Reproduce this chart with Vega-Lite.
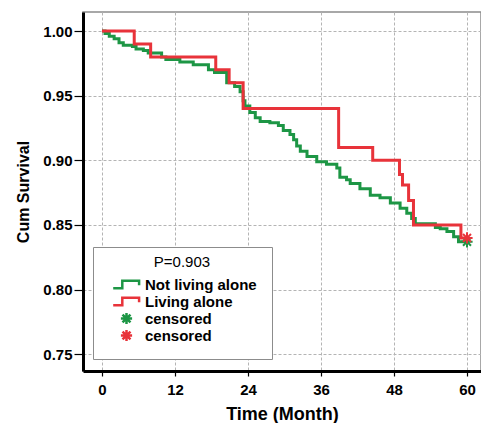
{
  "$schema": "https://vega.github.io/schema/vega-lite/v6.json",
  "width": 398,
  "height": 359,
  "autosize": {"type": "none"},
  "padding": {"left": 83, "top": 12, "right": 0, "bottom": 52},
  "background": "white",
  "config": {
    "font": "Liberation Sans",
    "view": {"stroke": "#8c8c8c", "strokeWidth": 1.5},
    "axis": {
      "gridColor": "#b4b4b4",
      "gridDash": [3, 2],
      "gridWidth": 1,
      "domainColor": "black",
      "domainWidth": 3,
      "tickColor": "black",
      "tickWidth": 1.2,
      "labelColor": "black",
      "titleColor": "black",
      "labelFont": "Liberation Sans",
      "titleFont": "Liberation Sans",
      "labelFontWeight": "bold",
      "titleFontWeight": "bold"
    }
  },
  "datasets": {
    "km": [
      {"group": "Not living alone", "time": 0, "surv": 1.0},
      {"group": "Not living alone", "time": 0.5, "surv": 0.998},
      {"group": "Not living alone", "time": 1.2, "surv": 0.996},
      {"group": "Not living alone", "time": 2.0, "surv": 0.994},
      {"group": "Not living alone", "time": 2.8, "surv": 0.991},
      {"group": "Not living alone", "time": 3.5, "surv": 0.989},
      {"group": "Not living alone", "time": 5.0, "surv": 0.988},
      {"group": "Not living alone", "time": 5.6, "surv": 0.986},
      {"group": "Not living alone", "time": 6.8, "surv": 0.985},
      {"group": "Not living alone", "time": 7.6, "surv": 0.983},
      {"group": "Not living alone", "time": 9.8, "surv": 0.98},
      {"group": "Not living alone", "time": 10.5, "surv": 0.978},
      {"group": "Not living alone", "time": 12.8, "surv": 0.976},
      {"group": "Not living alone", "time": 15.0, "surv": 0.974},
      {"group": "Not living alone", "time": 17.5, "surv": 0.97},
      {"group": "Not living alone", "time": 18.5, "surv": 0.968},
      {"group": "Not living alone", "time": 20.5, "surv": 0.96},
      {"group": "Not living alone", "time": 21.8, "surv": 0.957},
      {"group": "Not living alone", "time": 22.7, "surv": 0.953},
      {"group": "Not living alone", "time": 23.2, "surv": 0.946},
      {"group": "Not living alone", "time": 23.5, "surv": 0.942},
      {"group": "Not living alone", "time": 24.3, "surv": 0.937},
      {"group": "Not living alone", "time": 25.2, "surv": 0.933},
      {"group": "Not living alone", "time": 26.0, "surv": 0.93},
      {"group": "Not living alone", "time": 27.6, "surv": 0.929},
      {"group": "Not living alone", "time": 29.0, "surv": 0.927},
      {"group": "Not living alone", "time": 29.8, "surv": 0.923},
      {"group": "Not living alone", "time": 30.9, "surv": 0.92},
      {"group": "Not living alone", "time": 31.5, "surv": 0.916},
      {"group": "Not living alone", "time": 32.0, "surv": 0.911},
      {"group": "Not living alone", "time": 32.6, "surv": 0.907},
      {"group": "Not living alone", "time": 33.7, "surv": 0.903},
      {"group": "Not living alone", "time": 35.3, "surv": 0.899},
      {"group": "Not living alone", "time": 36.9, "surv": 0.897},
      {"group": "Not living alone", "time": 38.6, "surv": 0.894},
      {"group": "Not living alone", "time": 39.1, "surv": 0.887},
      {"group": "Not living alone", "time": 40.2, "surv": 0.885},
      {"group": "Not living alone", "time": 40.8, "surv": 0.882},
      {"group": "Not living alone", "time": 42.4, "surv": 0.878},
      {"group": "Not living alone", "time": 44.1, "surv": 0.873},
      {"group": "Not living alone", "time": 45.7, "surv": 0.871},
      {"group": "Not living alone", "time": 47.4, "surv": 0.867},
      {"group": "Not living alone", "time": 49.0, "surv": 0.863},
      {"group": "Not living alone", "time": 50.1, "surv": 0.859},
      {"group": "Not living alone", "time": 50.9, "surv": 0.855},
      {"group": "Not living alone", "time": 51.5, "surv": 0.851},
      {"group": "Not living alone", "time": 54.8, "surv": 0.848},
      {"group": "Not living alone", "time": 55.6, "surv": 0.847},
      {"group": "Not living alone", "time": 56.7, "surv": 0.845},
      {"group": "Not living alone", "time": 57.8, "surv": 0.841},
      {"group": "Not living alone", "time": 58.6, "surv": 0.837},
      {"group": "Not living alone", "time": 60.0, "surv": 0.837},
      {"group": "Living alone", "time": 0, "surv": 1.0},
      {"group": "Living alone", "time": 5.3, "surv": 0.99},
      {"group": "Living alone", "time": 8.0, "surv": 0.98},
      {"group": "Living alone", "time": 18.7, "surv": 0.97},
      {"group": "Living alone", "time": 20.9, "surv": 0.96},
      {"group": "Living alone", "time": 23.2, "surv": 0.94},
      {"group": "Living alone", "time": 38.9, "surv": 0.91},
      {"group": "Living alone", "time": 44.5, "surv": 0.9},
      {"group": "Living alone", "time": 48.9, "surv": 0.889},
      {"group": "Living alone", "time": 49.4, "surv": 0.881},
      {"group": "Living alone", "time": 50.4, "surv": 0.869},
      {"group": "Living alone", "time": 51.2, "surv": 0.85},
      {"group": "Living alone", "time": 59.0, "surv": 0.84},
      {"group": "Living alone", "time": 60.0, "surv": 0.84}
    ],
    "censored": [
      {"key": "censored_g", "time": 60.0, "surv": 0.837},
      {"key": "censored_r", "time": 60.0, "surv": 0.84}
    ]
  },
  "layer": [
    {
      "data": {"name": "km"},
      "mark": {"type": "line", "interpolate": "step-after", "strokeWidth": 3, "clip": true},
      "encoding": {
        "x": {
          "field": "time", "type": "quantitative",
          "scale": {"domain": [-3.12, 62.3], "nice": false, "zero": false},
          "axis": {
            "values": [0, 12, 24, 36, 48, 60],
            "title": "Time (Month)",
            "titleFontSize": 18,
            "titlePadding": 8,
            "labelFontSize": 15,
            "labelPadding": 6,
            "tickSize": 5
          }
        },
        "y": {
          "field": "surv", "type": "quantitative",
          "scale": {"domain": [0.7371, 1.0147], "nice": false, "zero": false},
          "axis": {
            "values": [0.75, 0.8, 0.85, 0.9, 0.95, 1.0],
            "format": ".2f",
            "title": "Cum Survival",
            "titleFontSize": 16,
            "titlePadding": 11,
            "labelFontSize": 15,
            "labelPadding": 2,
            "tickSize": 9
          }
        },
        "stroke": {
          "field": "group", "type": "nominal",
          "scale": {"domain": ["Not living alone", "Living alone"], "range": ["#1d9645", "#e8333a"]},
          "legend": null
        },
        "order": {"field": "time", "type": "quantitative"}
      }
    },
    {
      "data": {"name": "censored"},
      "mark": {"type": "point", "filled": false, "strokeWidth": 2, "size": 196, "opacity": 1},
      "encoding": {
        "x": {"field": "time", "type": "quantitative"},
        "y": {"field": "surv", "type": "quantitative"},
        "color": {
          "field": "key", "type": "nominal",
          "scale": {
            "domain": ["Not living alone", "Living alone", "censored_g", "censored_r"],
            "range": ["#1d9645", "#e8333a", "#1d9645", "#e8333a"]
          },
          "legend": {
            "title": "P=0.903",
            "orient": "none",
            "legendX": 10,
            "legendY": 235,
            "direction": "vertical",
            "titleFontSize": 15,
            "titleFontWeight": "normal",
            "titleColor": "black",
            "titleAnchor": "middle",
            "titleBaseline": "middle",
            "titlePadding": -1,
            "labelFontSize": 15,
            "labelFontWeight": "bold",
            "labelColor": "black",
            "labelOffset": 10,
            "labelExpr": "indexof(datum.label, 'censored') == 0 ? 'censored' : datum.label",
            "symbolSize": 196,
            "symbolStrokeWidth": 2.5,
            "symbolOffset": 10,
            "clipHeight": 17,
            "rowPadding": 0,
            "padding": 15,
            "strokeColor": "#8c8c8c",
            "fillColor": "white"
          }
        },
        "shape": {
          "field": "key", "type": "nominal",
          "scale": {
            "domain": ["Not living alone", "Living alone", "censored_g", "censored_r"],
            "range": [
              "M-1.9,0.55L-0.6,0.55L-0.6,-0.55L1.8,-0.55L1.8,0.1",
              "M-1.9,0.55L-0.6,0.55L-0.6,-0.55L1.8,-0.55L1.8,0.1",
              "M-0.8,0L0.8,0M0,-0.8L0,0.8M-0.57,-0.57L0.57,0.57M-0.57,0.57L0.57,-0.57",
              "M-0.8,0L0.8,0M0,-0.8L0,0.8M-0.57,-0.57L0.57,0.57M-0.57,0.57L0.57,-0.57"
            ]
          },
          "legend": {
            "title": "P=0.903",
            "orient": "none",
            "legendX": 10,
            "legendY": 235,
            "labelExpr": "indexof(datum.label, 'censored') == 0 ? 'censored' : datum.label"
          }
        }
      }
    }
  ]
}
